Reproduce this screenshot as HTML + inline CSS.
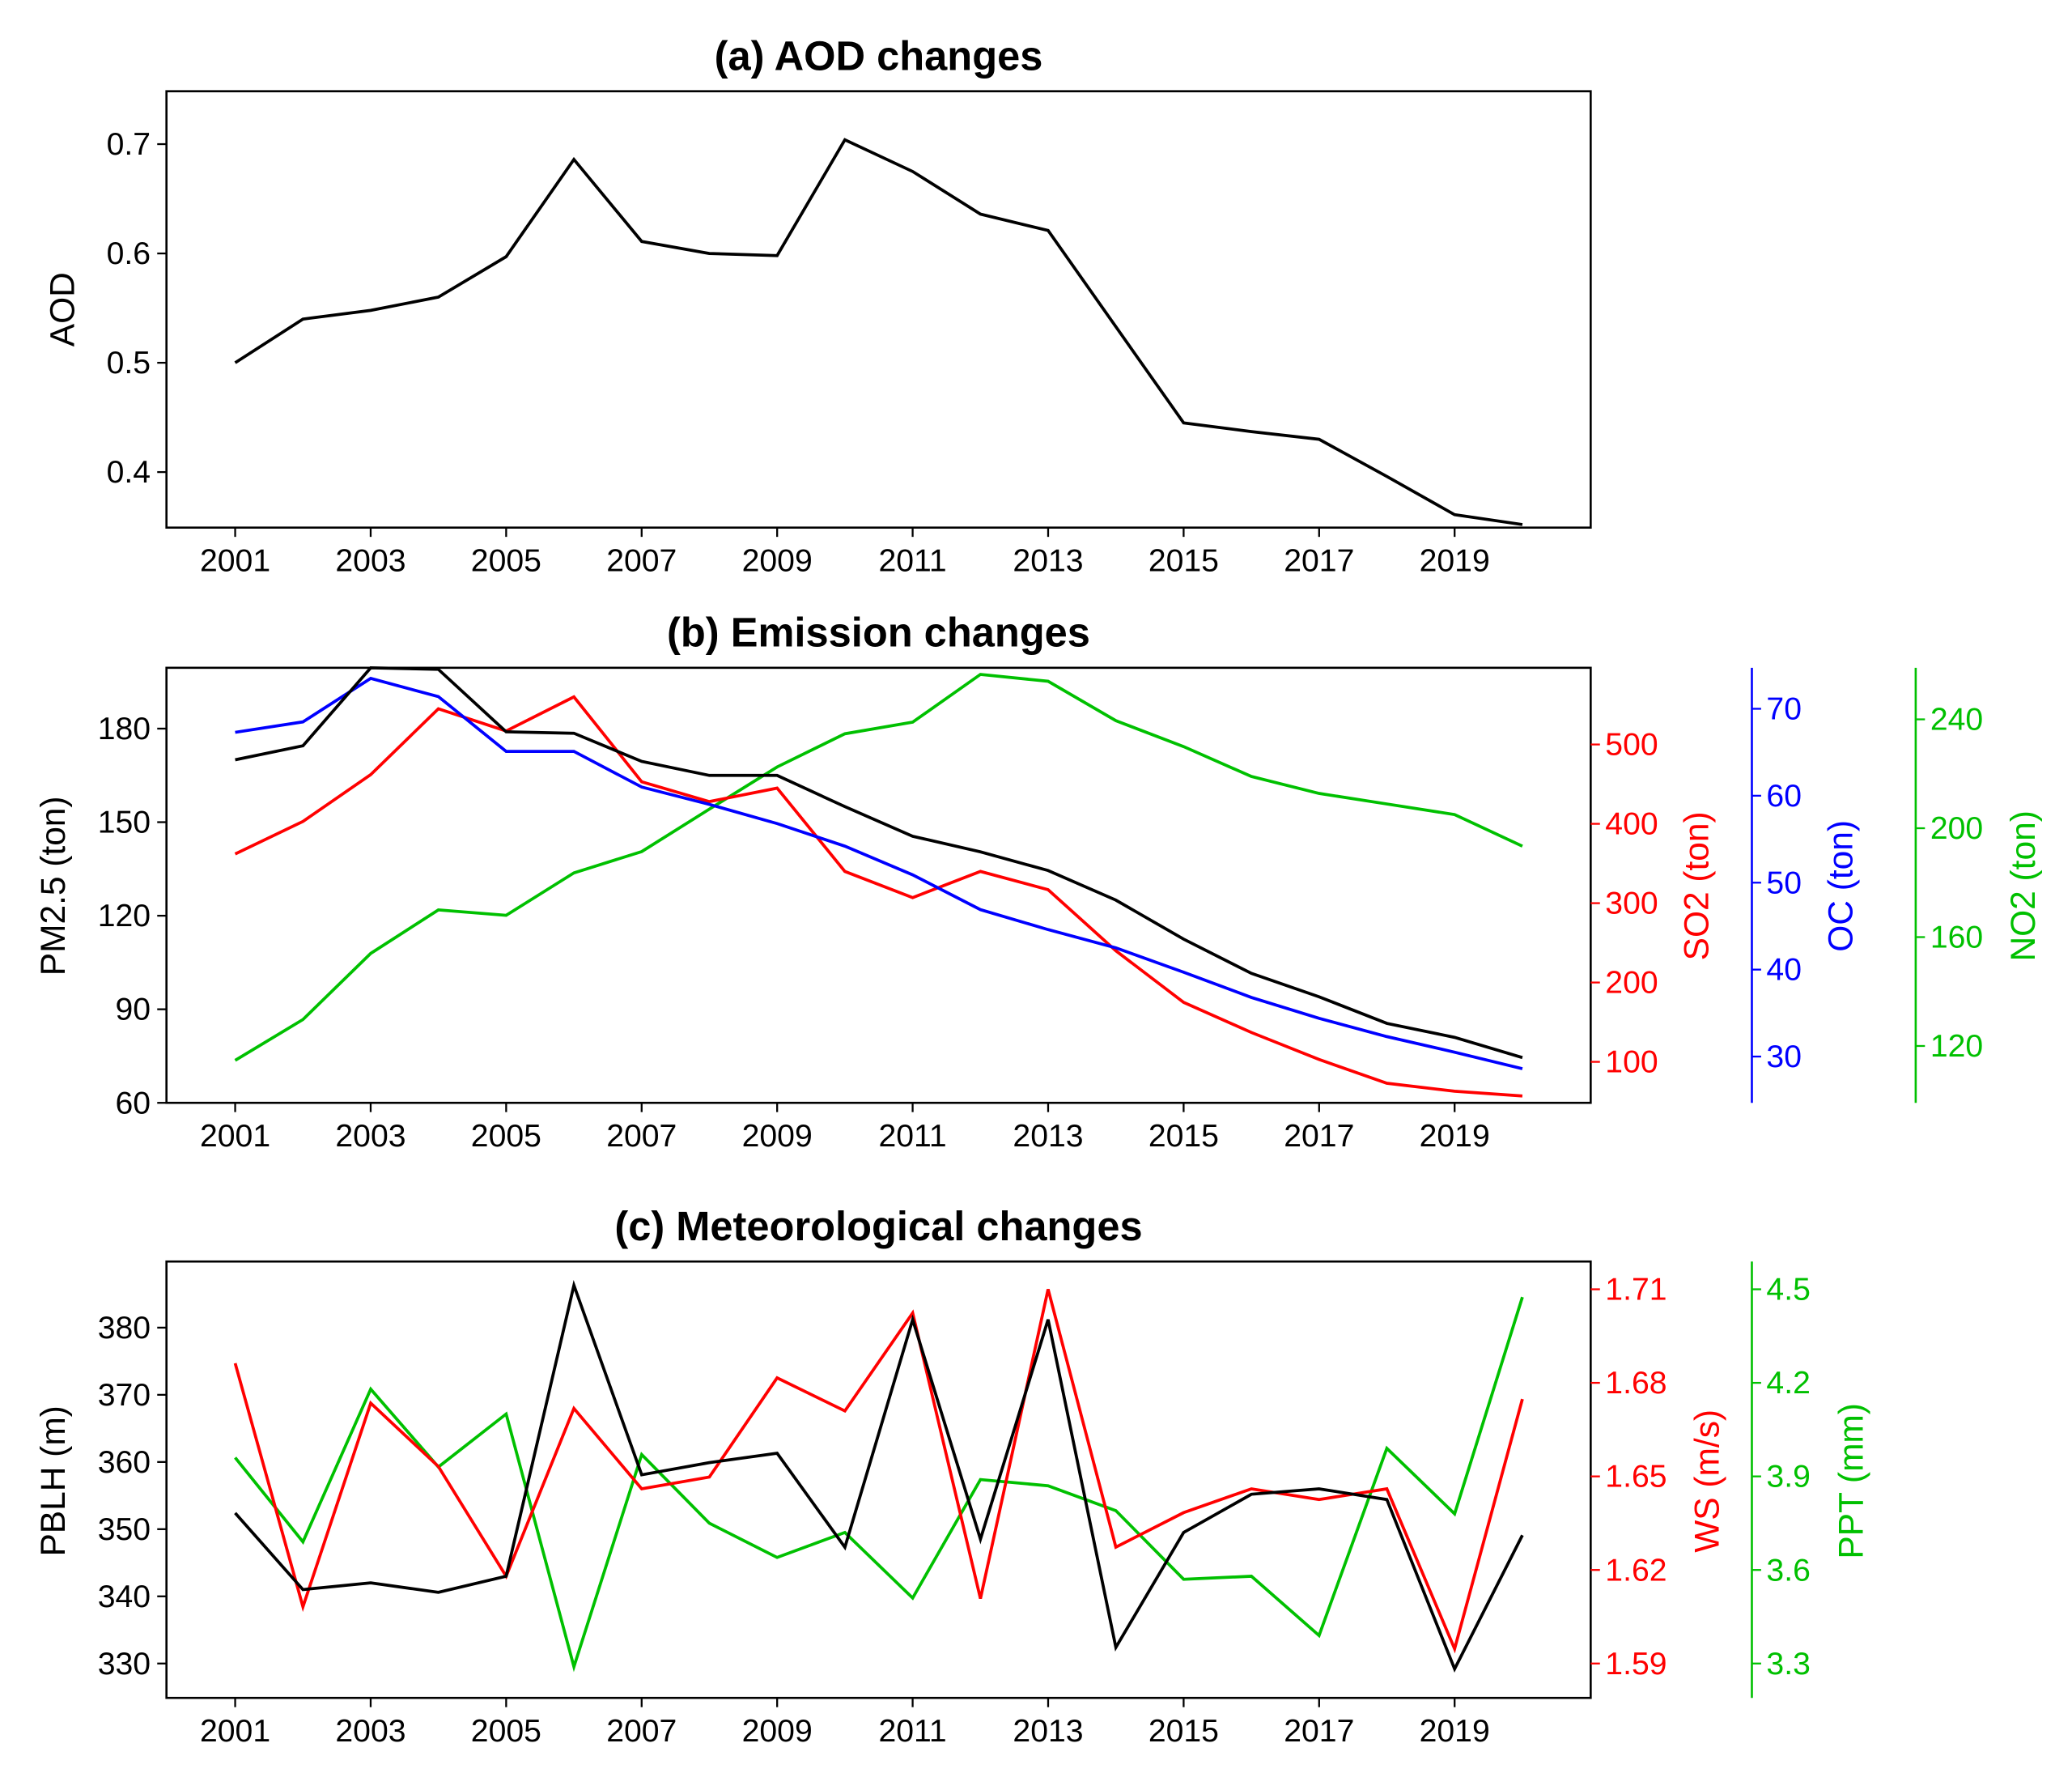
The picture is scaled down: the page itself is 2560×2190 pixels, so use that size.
<!DOCTYPE html>
<html><head><meta charset="utf-8">
<style>
html,body{margin:0;padding:0;background:#fff;}
svg{display:block;font-family:"Liberation Sans",Arial,sans-serif;}
</style></head>
<body>
<svg id="chart" width="2560" height="2190" viewBox="0 0 1568.3 1340.8" preserveAspectRatio="none" xmlns="http://www.w3.org/2000/svg"></svg>
<script>
const years = [2001,2002,2003,2004,2005,2006,2007,2008,2009,2010,2011,2012,2013,2014,2015,2016,2017,2018,2019,2020];
const aodValues = [0.500,0.540,0.548,0.560,0.597,0.686,0.611,0.600,0.598,0.704,0.675,0.636,0.621,0.533,0.445,0.437,0.430,0.396,0.361,0.352];
const pm25Values = [170,174.5,199.5,199,179,178.5,169.5,165,165,155,145.5,140.5,134.5,125,112.5,101.5,94,85.5,81,74.5];
const so2Values = [362,403,462,545,517,560,453,428,445,340,307,340,317,240,175,137,103,73,63,57];
const ocValues = [67.3,68.5,73.5,71.4,65.1,65.1,61,59,56.8,54.2,50.9,46.9,44.6,42.5,39.7,36.8,34.4,32.3,30.5,28.6];
const no2Values = [114.7,129.7,154,170,168,183.6,191.4,207,222.5,234.7,239,256.5,254,239.5,230,219,212.8,208.9,205,193.4];
const pblhValues = [352.4,341,342,340.6,343,386.3,358.1,359.9,361.3,347.3,381.2,348.5,381.2,332.4,349.5,355.2,356,354.4,329.2,349.1];
const wsValues = [1.6863,1.6082,1.6735,1.6532,1.618,1.6718,1.646,1.6498,1.6816,1.671,1.7024,1.6108,1.71,1.6273,1.6384,1.646,1.6426,1.646,1.5947,1.6748];
const pptValues = [3.96,3.69,4.18,3.93,4.10,3.29,3.97,3.75,3.64,3.72,3.51,3.89,3.87,3.79,3.57,3.58,3.39,3.99,3.78,4.475];
const xTickYears = [2001,2003,2005,2007,2009,2011,2013,2015,2017,2019];
const aodTicks = [0.4,0.5,0.6,0.7];
const pmTicks = [60,90,120,150,180];
const so2Ticks = [100,200,300,400,500];
const ocTicks = [30,40,50,60,70];
const no2Ticks = [120,160,200,240];
const pblhTicks = [330,340,350,360,370,380];
const wsTicks = [1.59,1.62,1.65,1.68,1.71];
const pptTicks = [3.3,3.6,3.9,4.2,4.5];

const svg = document.getElementById('chart');
const NS = 'http://www.w3.org/2000/svg';
function mk(tag, attrs, parent){const e=document.createElementNS(NS,tag);for(const k in attrs)e.setAttribute(k,attrs[k]);(parent||svg).appendChild(e);return e;}
const X0=126, X1=1204;
const xs = y => 178 + (y-2001)*(1101-178)/18;
function lin(v0,p0,v1,p1){return v=>p0+(v-v0)*(p1-p0)/(v1-v0);}
function txt(s,attrs,name){const t=mk('text',attrs);t.textContent=s;


return t;}

function panel(key,top,bottom,title){
  const g=mk('rect',{x:X0,y:top,width:X1-X0,height:bottom-top,fill:'none',stroke:'#000','stroke-width':1.6});
  
  
  txt(title,{x:665,y:top-16,'text-anchor':'middle','font-size':31,'font-weight':'bold'},key+'-title');
  xTickYears.forEach(y=>{
    const l=mk('line',{x1:xs(y),x2:xs(y),y1:bottom,y2:bottom+7,stroke:'#000','stroke-width':1.4});
    
    
    txt(String(y),{x:xs(y),y:bottom+33,'text-anchor':'middle','font-size':24},'x-tick-label');
  });
}
function leftAxis(ticks,sc,fmt){
  ticks.forEach(v=>{
    const l=mk('line',{x1:X0-7,x2:X0,y1:sc(v),y2:sc(v),stroke:'#000','stroke-width':1.4});
    
    
    txt(fmt(v),{x:X0-12,y:sc(v)+8,'text-anchor':'end','font-size':24},'y-tick-label');
  });
}
function rightAxis(name,ax,top,bottom,ticks,sc,fmt,color,drawLine){
  if(drawLine){const l=mk('line',{x1:ax,x2:ax,y1:top,y2:bottom,stroke:color,'stroke-width':1.6});
    
    }
  ticks.forEach(v=>{
    const l=mk('line',{x1:ax,x2:ax+7,y1:sc(v),y2:sc(v),stroke:color,'stroke-width':1.4});
    
    
    txt(fmt(v),{x:ax+11,y:sc(v)+8,'font-size':24,fill:color},name+'-tick-label');
  });
}
function axisTitle(s,x,y,color,name){
  txt(s,{x:x,y:y,'text-anchor':'middle','font-size':26,fill:color,transform:`rotate(-90 ${x} ${y})`},name);
}
function series(vals,sc,color,name){
  const d=vals.map((v,i)=>(i?'L':'M')+xs(years[i]).toFixed(1)+','+sc(v).toFixed(1)).join(' ');
  const p=mk('path',{d:d,fill:'none',stroke:color,'stroke-width':2.3,'stroke-linejoin':'miter'});
  
  
}

// Panel a
panel('aod-panel',69,399,'(a) AOD changes');
const yA=lin(0.7,109,0.4,357);
leftAxis(aodTicks,yA,v=>v.toFixed(1));
axisTitle('AOD',56,234,'#000','aod-axis-title');
series(aodValues,yA,'#000','aod-line');

// Panel b
panel('emission-panel',505,834,'(b) Emission changes');
const yPM=lin(180,551,60,834), ySO=lin(500,563,100,803), yOC=lin(70,536,30,799), yNO=lin(240,544,120,791);
leftAxis(pmTicks,yPM,v=>String(v));
rightAxis('so2',X1,505,834,so2Ticks,ySO,v=>String(v),'#ff0000',false);
rightAxis('oc',1326,505,834,ocTicks,yOC,v=>String(v),'#0000ff',true);
rightAxis('no2',1450,505,834,no2Ticks,yNO,v=>String(v),'#00c000',true);
axisTitle('PM2.5 (ton)',49,670,'#000','pm25-axis-title');
axisTitle('SO2 (ton)',1293,670,'#ff0000','so2-axis-title');
axisTitle('OC (ton)',1402,670,'#0000ff','oc-axis-title');
axisTitle('NO2 (ton)',1540,670,'#00c000','no2-axis-title');
series(no2Values,yNO,'#00c000','no2-line');
series(so2Values,ySO,'#ff0000','so2-line');
series(ocValues,yOC,'#0000ff','oc-line');
series(pm25Values,yPM,'#000','pm25-line');

// Panel c
panel('met-panel',954,1284,'(c) Meteorological changes');
const yPB=lin(380,1004,330,1258), yWS=lin(1.71,975,1.59,1258), yPP=lin(4.5,975,3.3,1258);
leftAxis(pblhTicks,yPB,v=>String(v));
rightAxis('ws',X1,954,1284,wsTicks,yWS,v=>v.toFixed(2),'#ff0000',false);
rightAxis('ppt',1326,954,1284,pptTicks,yPP,v=>v.toFixed(1),'#00c000',true);
axisTitle('PBLH (m)',49,1120,'#000','pblh-axis-title');
axisTitle('WS (m/s)',1301,1120,'#ff0000','ws-axis-title');
axisTitle('PPT (mm)',1410,1120,'#00c000','ppt-axis-title');
series(pptValues,yPP,'#00c000','ppt-line');
series(wsValues,yWS,'#ff0000','ws-line');
series(pblhValues,yPB,'#000','pblh-line');
</script>
</body></html>
